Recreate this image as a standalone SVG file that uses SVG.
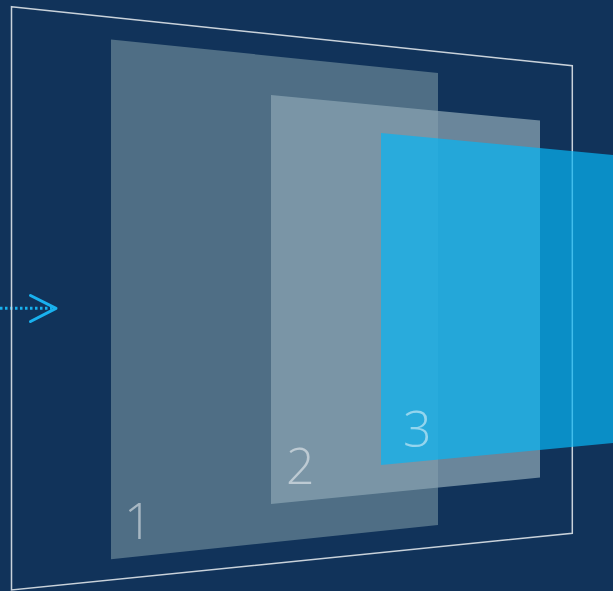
<svg xmlns="http://www.w3.org/2000/svg" width="613" height="591" viewBox="0 0 613 591">
  <style>
    .num { font-family: "Open Sans", Lato, "Liberation Sans", sans-serif; font-weight: 300; font-size: 50px; fill: #ffffff; fill-opacity: 0.5; }
    .frame { fill: none; stroke: #c9d2da; stroke-width: 1.5; }
    .arrow { fill: none; stroke: #19b1ee; stroke-width: 3; }
  </style>
  <rect width="613" height="591" fill="#11335a"/>
  <g id="connectors">
    <line class="arrow" x1="0" y1="308.3" x2="52" y2="308.3" stroke-dasharray="2.5 2.5"/>
    <polyline class="arrow" points="30.5,295.5 56,308.3 30.5,321.5" stroke-linecap="round" stroke-linejoin="round"/>
  </g>
  <g id="frame">
    <polygon class="frame" points="11.5,6.7 572.3,65.7 572.3,533.3 11.5,590"/>
  </g>
  <g id="panel1">
    <polygon points="111,39.5 438,73 438,525 111,559.3" fill="#4f6e85"/>
    <text class="num" x="124" y="539">1</text>
  </g>
  <g id="panel2">
    <polygon points="271,95 540,120.5 540,477.5 271,504" fill="#88a3b1" fill-opacity="0.75"/>
    <text class="num" x="286" y="484">2</text>
  </g>
  <g id="panel3">
    <polygon points="381,133 613,155 613,443 381,465" fill="#07b5f4" fill-opacity="0.7"/>
    <text class="num" x="403" y="447">3</text>
  </g>
</svg>
